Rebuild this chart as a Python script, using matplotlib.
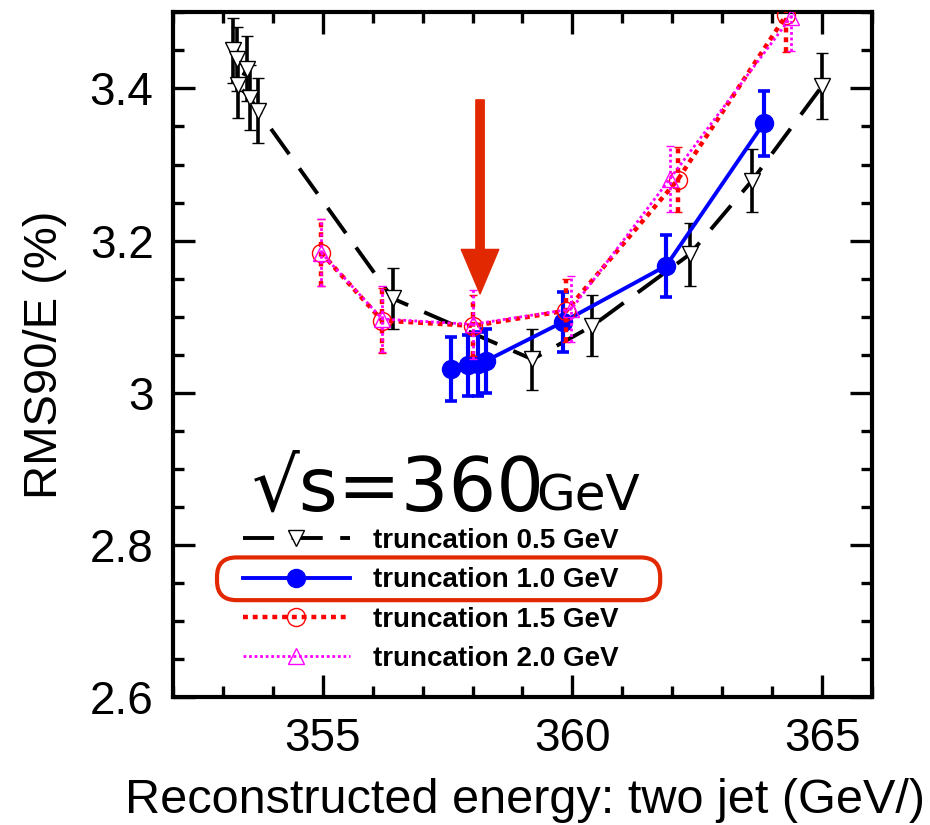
import numpy as np
import matplotlib.pyplot as plt
from matplotlib.patches import FancyBboxPatch
from matplotlib.ticker import MultipleLocator

plt.rcParams['font.family'] = ['Liberation Sans', 'DejaVu Sans']

# truncation 0.5 GeV
e05 = [353.2, 353.28, 353.48, 353.3, 353.54, 353.7, 356.4, 359.2, 360.4, 362.35, 363.6, 365.0]
r05 = [3.450, 3.439, 3.426, 3.404, 3.388, 3.371, 3.124, 3.044, 3.088, 3.182, 3.279, 3.403]
err05 = [0.043, 0.042, 0.043, 0.043, 0.043, 0.043, 0.040, 0.040, 0.040, 0.041, 0.042, 0.043]

# truncation 1.0 GeV
e10 = [357.57, 357.9, 358.1, 358.27, 359.81, 361.88, 363.83]
r10 = [3.031, 3.036, 3.038, 3.042, 3.093, 3.167, 3.354]
err10 = [0.042, 0.040, 0.042, 0.042, 0.040, 0.041, 0.043]

# truncation 1.5 GeV
e15 = [354.97, 356.19, 358.01, 359.88, 362.11, 364.28]
r15 = [3.184, 3.095, 3.088, 3.108, 3.280, 3.496]
err15 = [0.044, 0.043, 0.040, 0.041, 0.043, 0.048]

# truncation 2.0 GeV
e20 = [354.97, 356.19, 358.0, 359.98, 361.95, 364.38]
r20 = [3.184, 3.097, 3.090, 3.110, 3.281, 3.494]
err20 = [0.044, 0.043, 0.045, 0.043, 0.044, 0.045]

labels = ["truncation 0.5 GeV", "truncation 1.0 GeV",
          "truncation 1.5 GeV", "truncation 2.0 GeV"]

# pil: (x, topp, spiss)
arrow_x, arrow_top, arrow_tip = 358.15, 3.385, 3.130

fig = plt.figure(figsize=(9.3, 8.25), dpi=100)
ax = fig.add_axes([0.186, 0.155, 0.7516, 0.830])

c05 = ax.errorbar(e05, r05, yerr=err05, color='black', lw=2.8, dashes=(8, 4.5),
                  marker='v', ms=12, mfc='white', mec='black', mew=1.0,
                  ecolor='black', elinewidth=2.6, capsize=4, capthick=2.6, zorder=2)
c10 = ax.errorbar(e10, r10, yerr=err10, color='#0000ff', lw=2.8, ls='-',
                  marker='o', ms=13, mfc='#0000ff', mec='#0000ff',
                  ecolor='#0000ff', elinewidth=3, capsize=4, capthick=2.6, zorder=3)
c15 = ax.errorbar(e15, r15, yerr=err15, color='#ff0000', lw=3.2, dashes=(1.1, 1.1),
                  marker='o', ms=13, mfc='none', mec='#ff0000', mew=1.0,
                  ecolor='#ff0000', elinewidth=3.2, capsize=3, zorder=4)
c15[2][0].set_linestyle((0, (1.1, 1.1)))
c20 = ax.errorbar(e20, r20, yerr=err20, color='#ff00ff', lw=2.0, dashes=(1, 1),
                  marker='^', ms=12, mfc='none', mec='#ff00ff', mew=1.0,
                  ecolor='#ff00ff', elinewidth=2.0, capsize=3, zorder=5)
c20[2][0].set_linestyle((0, (1, 1)))

ax.annotate('', xy=(arrow_x, arrow_tip), xytext=(arrow_x, arrow_top),
            arrowprops=dict(facecolor='#e22800', edgecolor='#e22800',
                            width=6, headwidth=27, headlength=32, shrink=0),
            zorder=6)

ax.set_xlim(352, 366)
ax.set_ylim(2.6, 3.5)
ax.xaxis.set_major_locator(MultipleLocator(5))
ax.xaxis.set_minor_locator(MultipleLocator(1))
ax.yaxis.set_major_locator(MultipleLocator(0.2))
ax.yaxis.set_minor_locator(MultipleLocator(0.05))
ax.set_yticks([2.6, 2.8, 3.0, 3.2, 3.4])
ax.set_yticklabels(['2.6', '2.8', '3', '3.2', '3.4'])
ax.tick_params(which='both', direction='in', top=True, right=True,
               width=2.4, labelsize=33, pad=14)
ax.tick_params(which='major', length=16)
ax.tick_params(which='minor', length=8)
for s in ax.spines.values():
    s.set_linewidth(3)

ax.set_xlabel("Reconstructed energy: two jet (GeV/)", fontsize=35)
ax.set_ylabel("RMS90/E (%)", fontsize=34)
ax.xaxis.set_label_coords(0.504, -0.118)
ax.yaxis.set_label_coords(-0.152, 0.5)

ax.text(0.113, 0.273, "\u221as=360", transform=ax.transAxes, fontsize=54,
        family='DejaVu Sans', ha='left', va='baseline')
ax.text(0.520, 0.273, "GeV", transform=ax.transAxes, fontsize=36,
        family='DejaVu Sans', ha='left', va='baseline')

leg = ax.legend([c05[0], c10[0], c15[0], c20[0]], labels,
                loc='upper left', bbox_to_anchor=(0.100, 0.247),
                frameon=False, handlelength=3.85, handletextpad=0.83,
                labelspacing=0.48, prop={'weight': 'bold', 'size': 20},
                borderpad=0, borderaxespad=0)

box = FancyBboxPatch((0.063, 0.1416), 0.634, 0.0624, transform=ax.transAxes,
                     boxstyle='round,pad=0,rounding_size=0.028',
                     fc='none', ec='#e22800', lw=3, zorder=7)
ax.add_patch(box)

fig.savefig('out.png', dpi=100)
